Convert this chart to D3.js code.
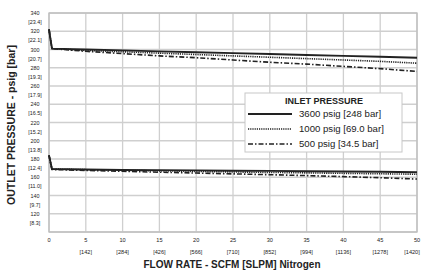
<!DOCTYPE html>
<html>
<head>
<meta charset="utf-8">
<script src="https://cdn.jsdelivr.net/npm/d3@7"></script>
<style>
  body { margin: 0; background: #fff; }
  text { font-family: "Liberation Sans", Arial, sans-serif; fill: #222; }
</style>
</head>
<body>
<svg id="chart"></svg>
<script>
// flow rate in SCFM
let flow = [0, 0.4, 5, 10, 15, 20, 25, 30, 35, 40, 45, 50];

// outlet pressure psig, high setting
let hi3600 = [322, 301, 300, 299, 298, 297, 296, 295, 294, 293, 292, 291];
let hi1000 = [322, 301, 299, 297.5, 296, 294.5, 293, 291.5, 290, 288.5, 287, 285];
let hi500 = [322, 301, 298, 295.5, 293, 291, 288.5, 286, 284, 281.5, 279, 276];

// outlet pressure psig, low setting
let lo3600 = [184, 169, 168.5, 168, 167.8, 167.5, 167.2, 167, 166.6, 166.3, 166, 165.5];
let lo1000 = [184, 169, 168.3, 167.6, 167, 166.4, 165.8, 165.3, 164.8, 164.3, 163.8, 163.3];
let lo500 = [184, 168.5, 167.5, 166.5, 165.5, 164.6, 163.7, 162.8, 161.8, 160.7, 159.5, 158];

let xTicks = [0, 5, 10, 15, 20, 25, 30, 35, 40, 45, 50];
let xSub = ["", "[142]", "[284]", "[426]", "[566]", "[710]", "[852]", "[994]", "[1136]", "[1278]", "[1420]"];
let yTicks = [340, 320, 300, 280, 260, 240, 220, 200, 180, 160, 140, 120];
let ySub = ["[23.4]", "[22.1]", "[20.7]", "[19.3]", "[17.9]", "[16.5]", "[15.2]", "[13.8]", "[12.4]", "[11.0]", "[9.7]", "[8.3]"];

let legendNames = ["3600 psig [248 bar]", "1000 psig [69.0 bar]", "500 psig [34.5 bar]"];
let dashes = [null, "1.2,1", "5,2,1.5,2"];

function drawChart() {
    let w = 423, h = 270;
    let m = {left: 49, right: 6, top: 13, bottom: 38};

    let svg = d3.select("#chart")
        .attr("width", w)
        .attr("height", h);

    let x = d3.scaleLinear().domain([0, 50]).range([m.left, w - m.right]);
    let y = d3.scaleLinear().domain([100, 340]).range([h - m.bottom, m.top]);

    // grid
    let grid = svg.append("g");
    grid.selectAll(".vg")
        .data(xTicks)
        .enter()
        .append("line")
        .attr("x1", d => x(d)).attr("x2", d => x(d))
        .attr("y1", y(100)).attr("y2", y(340))
        .attr("stroke", "#cfcfcf")
        .attr("stroke-width", 1.3);
    grid.selectAll(".hg")
        .data(d3.range(100, 341, 20))
        .enter()
        .append("line")
        .attr("x1", x(0)).attr("x2", x(50))
        .attr("y1", d => y(d)).attr("y2", d => y(d))
        .attr("stroke", "#cfcfcf")
        .attr("stroke-width", 1.3);

    svg.append("rect")
        .attr("x", x(0)).attr("y", y(340))
        .attr("width", x(50) - x(0)).attr("height", y(100) - y(340))
        .attr("fill", "none")
        .attr("stroke", "#bdbdbd")
        .attr("stroke-width", 1.3);

    // y tick labels
    let yl = svg.append("g").attr("font-size", 5.4).attr("text-anchor", "middle");
    yl.selectAll(".yt")
        .data(yTicks)
        .enter()
        .append("text")
        .attr("x", 35)
        .attr("y", d => y(d) + 2)
        .text(d => d);
    yl.selectAll(".ys")
        .data(yTicks)
        .enter()
        .append("text")
        .attr("x", 35)
        .attr("y", d => y(d - 10) + 2)
        .text((d, i) => ySub[i]);

    // x tick labels (last one nudged in so it stays on the page)
    let xl = svg.append("g").attr("font-size", 5.6).attr("text-anchor", "middle");
    xl.selectAll(".xt")
        .data(xTicks)
        .enter()
        .append("text")
        .attr("x", d => x(d))
        .attr("y", 242)
        .text(d => d);
    xl.selectAll(".xs")
        .data(xTicks)
        .enter()
        .append("text")
        .attr("x", d => Math.min(x(d), w - 11))
        .attr("y", 254)
        .text((d, i) => xSub[i]);

    // axis titles
    svg.append("text")
        .attr("transform", "translate(15," + 125 + ") rotate(-90)")
        .attr("text-anchor", "middle")
        .attr("font-size", 10.5)
        .attr("font-weight", "bold")
        .text("OUTLET PRESSURE - psig [bar]");
    svg.append("text")
        .attr("x", 232)
        .attr("y", 268)
        .attr("text-anchor", "middle")
        .attr("font-size", 10)
        .attr("font-weight", "bold")
        .text("FLOW RATE - SCFM [SLPM] Nitrogen");

    // curves
    let line = d3.line()
        .x((d, i) => x(flow[i]))
        .y(d => y(d));

    let series = [hi500, hi1000, hi3600, lo500, lo1000, lo3600];
    let styles = [2, 1, 0, 2, 1, 0];
    svg.append("g")
        .selectAll("path")
        .data(series)
        .enter()
        .append("path")
        .attr("d", line)
        .attr("fill", "none")
        .attr("stroke", "#222")
        .attr("stroke-width", (d, i) => styles[i] == 0 ? 1.9 : 1.6)
        .attr("stroke-dasharray", (d, i) => dashes[styles[i]]);

    // legend
    let lg = svg.append("g").attr("transform", "translate(245,93)");
    lg.append("rect")
        .attr("width", 157).attr("height", 59)
        .attr("fill", "#fff")
        .attr("stroke", "#c8c8c8")
        .attr("stroke-width", 1);
    lg.append("text")
        .attr("x", 79).attr("y", 11)
        .attr("text-anchor", "middle")
        .attr("font-size", 9)
        .attr("font-weight", "bold")
        .text("INLET PRESSURE");
    let item = lg.selectAll(".it")
        .data(legendNames)
        .enter()
        .append("g")
        .attr("transform", (d, i) => "translate(0," + (21 + i * 15) + ")");
    item.append("line")
        .attr("x1", 3).attr("x2", 47)
        .attr("stroke", "#222")
        .attr("stroke-width", (d, i) => i == 0 ? 1.9 : 1.6)
        .attr("stroke-dasharray", (d, i) => dashes[i]);
    item.append("text")
        .attr("x", 54).attr("y", 3.2)
        .attr("font-size", 9.6)
        .text(d => d);
}

window.onload = function() {
    drawChart();
}
</script>
</body>
</html>
